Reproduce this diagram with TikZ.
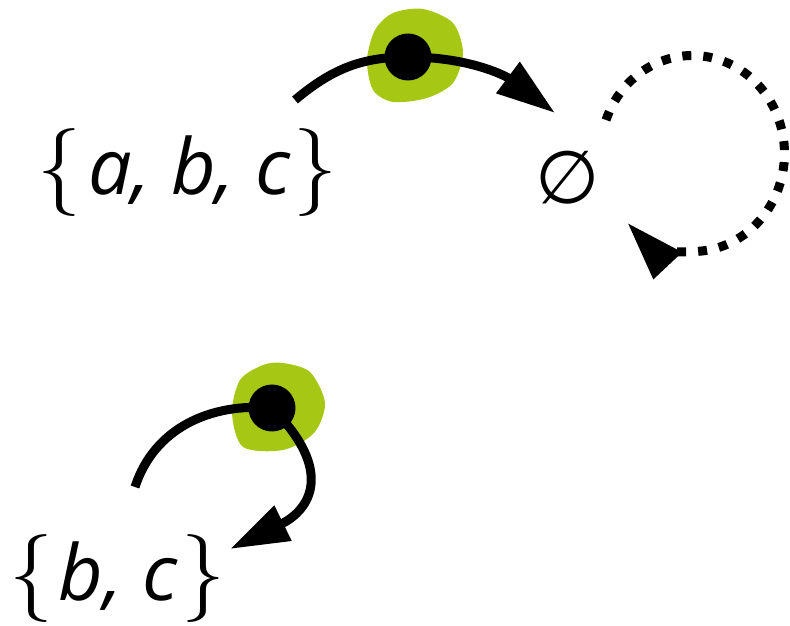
\documentclass[tikz,border=0pt]{standalone}
\usepackage{fontspec}
\newfontfamily\setfont{Open Sans}
\newfontfamily\symfont{DejaVu Sans}
\usetikzlibrary{arrows.meta}
\definecolor{leaf}{RGB}{166,200,20}
\newcommand{\bracefont}{\fontsize{50}{60}\selectfont}

\begin{document}
\begin{tikzpicture}[
  font=\fontsize{44}{52}\selectfont,
  setnode/.style={inner sep=0pt, anchor=base},
  marker/.style={circle, fill=black, minimum size=0.94cm, inner sep=0pt},
  halo/.style={fill=leaf},
  arr/.style={line width=0.18cm, -{Triangle[length=1.18cm, width=0.74cm]}},
  dotarr/.style={arr, dash pattern=on 0.18cm off 0.24cm}
]
\useasboundingbox (0,0) rectangle (15.8,12.5);

\node[setnode] (abc) at (3.75,8.6) {{\bracefont\{}\kern4pt{\setfont\itshape a, b, c}\kern2pt{\bracefont\}}};
\node (empty) at (11.36,8.94) {\symfont\fontsize{42}{50}\selectfont ∅};
\node[setnode] (bc) at (2.35,0.5) {{\bracefont\{}\kern3pt{\setfont\itshape b, c}\kern2pt{\bracefont\}}};

% removal step a
\coordinate (s1) at (5.9,10.5);
\coordinate (m1) at (8.16,11.36);
\coordinate (e1) at (11.1,10.24);
\fill[halo, shift={(m1)}] plot[smooth cycle] coordinates {(0.3,0.96) (0.9,0.68) (1.1,0.08) (0.9,-0.52) (0.38,-0.82) (-0.3,-0.9) (-0.7,-0.66) (-0.82,-0.06) (-0.66,0.54) (-0.3,0.88)};
\draw[arr] (s1) to[out=40,in=180] (m1) to[out=0,in=143] (e1);
\node[marker] (d1) at (m1) {};

% loop on the empty set
\coordinate (ls) at (12.12,10.1);
\draw[dotarr] (ls) arc[start angle=160, end angle=-135, x radius=1.84cm, y radius=1.96cm];

% removal step b
\coordinate (s2) at (2.7,2.76);
\coordinate (m2) at (5.44,4.34);
\coordinate (e2) at (4.6,1.52);
\fill[halo, shift={(m2)}] plot[smooth cycle] coordinates {(0.22,0.9) (0.76,0.72) (1.06,0.1) (0.84,-0.5) (0.22,-0.84) (-0.58,-0.78) (-0.8,-0.1) (-0.64,0.56) (-0.18,0.86)};
\draw[arr] (s2) to[out=72,in=175] (m2) to[out=-45,in=26,looseness=1.55] (e2);
\node[marker] (d2) at (m2) {};
\end{tikzpicture}
\end{document}
